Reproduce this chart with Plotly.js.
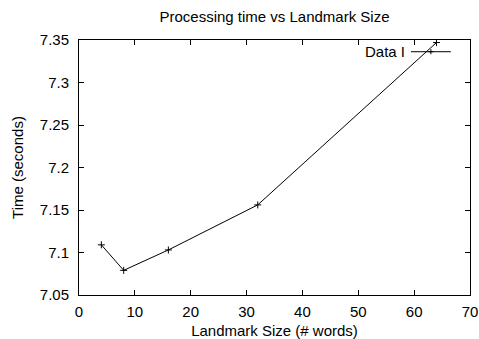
<!DOCTYPE html>
<html>
<head>
<meta charset="utf-8">
<script src="https://cdn.plot.ly/plotly-3.0.1.min.js"></script>
<style>html,body{margin:0;padding:0;background:#fff;}#plot{width:479px;height:339px;}</style>
</head>
<body>
<div id="plot"></div>
<script>
var landmarkSize = [4, 8, 16, 32, 64];
var timeSeconds = [7.109, 7.079, 7.103, 7.156, 7.347];
var seriesName = "Data I";
var xTickVals = [0, 10, 20, 30, 40, 50, 60, 70];
var yTickVals = [7.05, 7.1, 7.15, 7.2, 7.25, 7.3, 7.35];
var yTickText = ["7.05", "7.1", "7.15", "7.2", "7.25", "7.3", "7.35"];

var FONT = "Liberation Sans, Arial, sans-serif";
var trace = {
  x: landmarkSize, y: timeSeconds, name: seriesName,
  type: "scatter", mode: "lines+markers",
  line: {color: "#000", width: 1},
  marker: {symbol: "cross-thin", size: 5, color: "#000", line: {color: "#000", width: 1}},
  showlegend: false
};
var legY = 0.954, legX0 = 0.849, legX1 = 0.951, legXm = 0.900;
var layout = {
  width: 479, height: 339,
  margin: {l: 79, r: 9, t: 40, b: 44, pad: 0},
  paper_bgcolor: "#fff", plot_bgcolor: "#fff",
  font: {family: FONT, size: 15, color: "#000"},
  title: {text: "Processing time vs Landmark Size", font: {family: FONT, size: 15, color: "#000"},
          xref: "paper", x: 0.5, xanchor: "center", y: 0.95, yanchor: "middle", yref: "container"},
  xaxis: {
    range: [0, 70], tickvals: xTickVals, ticks: "inside", ticklen: 5, tickcolor: "#000",
    showline: true, linecolor: "#000", linewidth: 1, mirror: "ticks", showgrid: false, zeroline: false,
    tickfont: {family: FONT, size: 15}, ticklabelstandoff: 3,
    title: {text: "Landmark Size (# words)", font: {family: FONT, size: 15}, standoff: 6}
  },
  yaxis: {
    range: [7.05, 7.35], tickvals: yTickVals, ticktext: yTickText, ticks: "inside", ticklen: 5, tickcolor: "#000",
    showline: true, linecolor: "#000", linewidth: 1, mirror: "ticks", showgrid: false, zeroline: false,
    tickfont: {family: FONT, size: 15}, ticklabelstandoff: 6,
    title: {text: "Time (seconds)", font: {family: FONT, size: 15}, standoff: 12}
  },
  annotations: [{
    text: seriesName, xref: "paper", yref: "paper", x: 0.838, y: legY,
    xanchor: "right", yanchor: "middle", showarrow: false, font: {family: FONT, size: 15, color: "#000"}
  }],
  shapes: [
    {type: "line", xref: "paper", yref: "paper", x0: legX0, x1: legX1, y0: legY, y1: legY, line: {color: "#000", width: 1}},
    {type: "line", xref: "paper", yref: "paper", xsizemode: "pixel", xanchor: legXm, x0: -2.5, x1: 2.5, y0: legY, y1: legY, line: {color: "#000", width: 1}},
    {type: "line", xref: "paper", yref: "paper", ysizemode: "pixel", yanchor: legY, y0: -2.5, y1: 2.5, x0: legXm, x1: legXm, line: {color: "#000", width: 1}}
  ]
};
Plotly.newPlot("plot", [trace], layout, {displayModeBar: false, staticPlot: true});
</script>
</body>
</html>
